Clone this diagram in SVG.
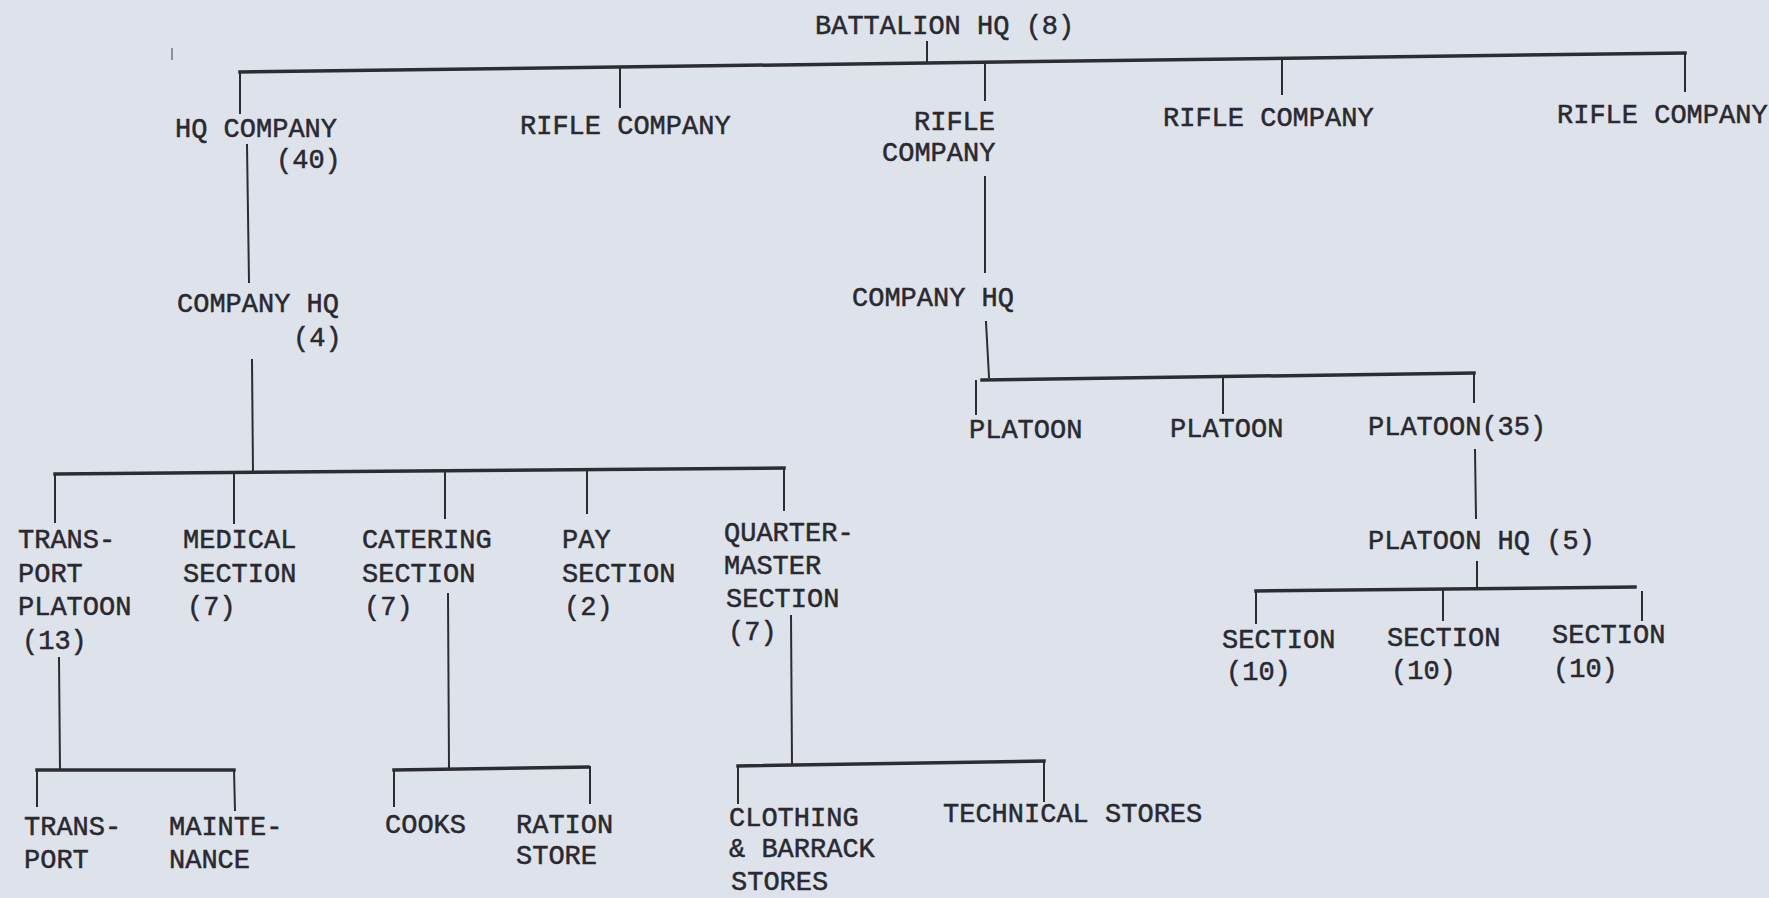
<svg xmlns="http://www.w3.org/2000/svg" width="1769" height="898" viewBox="0 0 1769 898">
<style>
.t{font-family:"Liberation Mono","Courier New",monospace;font-size:27px;fill:#2a2930;stroke:#2a2930;stroke-width:0.5}
.c path{fill:none;stroke:#2e2c33;stroke-width:2;stroke-linecap:square}
.c path.b{stroke-width:3.5}
</style>
<rect width="1769" height="898" fill="#dee3eb"/>
<path d="M172,48 L172,60" stroke="#5a5a62" stroke-width="1.2"/>
<g class="c" id="connectors">
<path class="b" d="M240,72 L1685,53"/>
<path d="M927,42 L927,63"/>
<path d="M240,72 L240,113"/>
<path d="M620,67 L620,107"/>
<path d="M985,62 L985,100"/>
<path d="M1282,58 L1282,94"/>
<path d="M1685,53 L1685,91"/>
<path d="M247,145 L249,282"/>
<path d="M252,360 L253,473"/>
<path class="b" d="M55,474 L784,468"/>
<path d="M55,474 L55,522"/>
<path d="M234,473 L234,523"/>
<path d="M445,471 L445,518"/>
<path d="M587,470 L587,513"/>
<path d="M784,468 L784,510"/>
<path d="M59,658 L60,770"/>
<path class="b" d="M37,770 L234,770"/>
<path d="M37,770 L37,806"/>
<path d="M234,770 L235,810"/>
<path d="M448,594 L449,768"/>
<path class="b" d="M394,770 L588,767"/>
<path d="M394,770 L394,806"/>
<path d="M590,767 L590,803"/>
<path d="M791,616 L792,765"/>
<path class="b" d="M738,766 L1044,761"/>
<path d="M738,766 L738,803"/>
<path d="M1044,761 L1044,801"/>
<path d="M985,177 L985,272"/>
<path d="M986,322 L989,377"/>
<path class="b" d="M982,380 L1474,373"/>
<path d="M976,381 L976,414"/>
<path d="M1223,377 L1223,413"/>
<path d="M1474,373 L1474,402"/>
<path d="M1475,450 L1476,518"/>
<path d="M1477,562 L1477,588"/>
<path class="b" d="M1256,591 L1635,587"/>
<path d="M1256,591 L1256,623"/>
<path d="M1443,589 L1443,620"/>
<path d="M1642,592 L1642,620"/>
</g>
<g id="battalion-hq"><text class="t" x="815" y="34">BATTALION HQ (8)</text></g>
<g id="hq-company"><text class="t" x="175" y="137">HQ COMPANY</text><text class="t" x="276" y="168">(40)</text></g>
<g id="rifle-company-1"><text class="t" x="520" y="134">RIFLE COMPANY</text></g>
<g id="rifle-company-2"><text class="t" x="914" y="130">RIFLE</text><text class="t" x="882" y="161">COMPANY</text></g>
<g id="rifle-company-3"><text class="t" x="1163" y="126">RIFLE COMPANY</text></g>
<g id="rifle-company-4"><text class="t" x="1557" y="123">RIFLE COMPANY</text></g>
<g id="company-hq-left"><text class="t" x="177" y="312">COMPANY HQ</text><text class="t" x="293" y="346">(4)</text></g>
<g id="company-hq-right"><text class="t" x="852" y="306">COMPANY HQ</text></g>
<g id="platoon-1"><text class="t" x="969" y="438">PLATOON</text></g>
<g id="platoon-2"><text class="t" x="1170" y="437">PLATOON</text></g>
<g id="platoon-3"><text class="t" x="1368" y="435">PLATOON(35)</text></g>
<g id="platoon-hq"><text class="t" x="1368" y="549">PLATOON HQ (5)</text></g>
<g id="section-1"><text class="t" x="1222" y="648">SECTION</text><text class="t" x="1226" y="680">(10)</text></g>
<g id="section-2"><text class="t" x="1387" y="646">SECTION</text><text class="t" x="1391" y="679">(10)</text></g>
<g id="section-3"><text class="t" x="1552" y="643">SECTION</text><text class="t" x="1553" y="677">(10)</text></g>
<g id="transport-platoon"><text class="t" x="18" y="548">TRANS-</text><text class="t" x="18" y="582">PORT</text><text class="t" x="18" y="615">PLATOON</text><text class="t" x="22" y="649">(13)</text></g>
<g id="medical-section"><text class="t" x="183" y="548">MEDICAL</text><text class="t" x="183" y="582">SECTION</text><text class="t" x="187" y="615">(7)</text></g>
<g id="catering-section"><text class="t" x="362" y="548">CATERING</text><text class="t" x="362" y="582">SECTION</text><text class="t" x="364" y="615">(7)</text></g>
<g id="pay-section"><text class="t" x="562" y="548">PAY</text><text class="t" x="562" y="582">SECTION</text><text class="t" x="564" y="615">(2)</text></g>
<g id="quartermaster-section"><text class="t" x="724" y="541">QUARTER-</text><text class="t" x="724" y="574">MASTER</text><text class="t" x="726" y="607">SECTION</text><text class="t" x="728" y="640">(7)</text></g>
<g id="transport"><text class="t" x="24" y="835">TRANS-</text><text class="t" x="24" y="868">PORT</text></g>
<g id="maintenance"><text class="t" x="169" y="835">MAINTE-</text><text class="t" x="169" y="868">NANCE</text></g>
<g id="cooks"><text class="t" x="385" y="833">COOKS</text></g>
<g id="ration-store"><text class="t" x="516" y="833">RATION</text><text class="t" x="516" y="864">STORE</text></g>
<g id="clothing-barrack-stores"><text class="t" x="729" y="826">CLOTHING</text><text class="t" x="729" y="857">&amp; BARRACK</text><text class="t" x="731" y="890">STORES</text></g>
<g id="technical-stores"><text class="t" x="943" y="822">TECHNICAL STORES</text></g>
</svg>
